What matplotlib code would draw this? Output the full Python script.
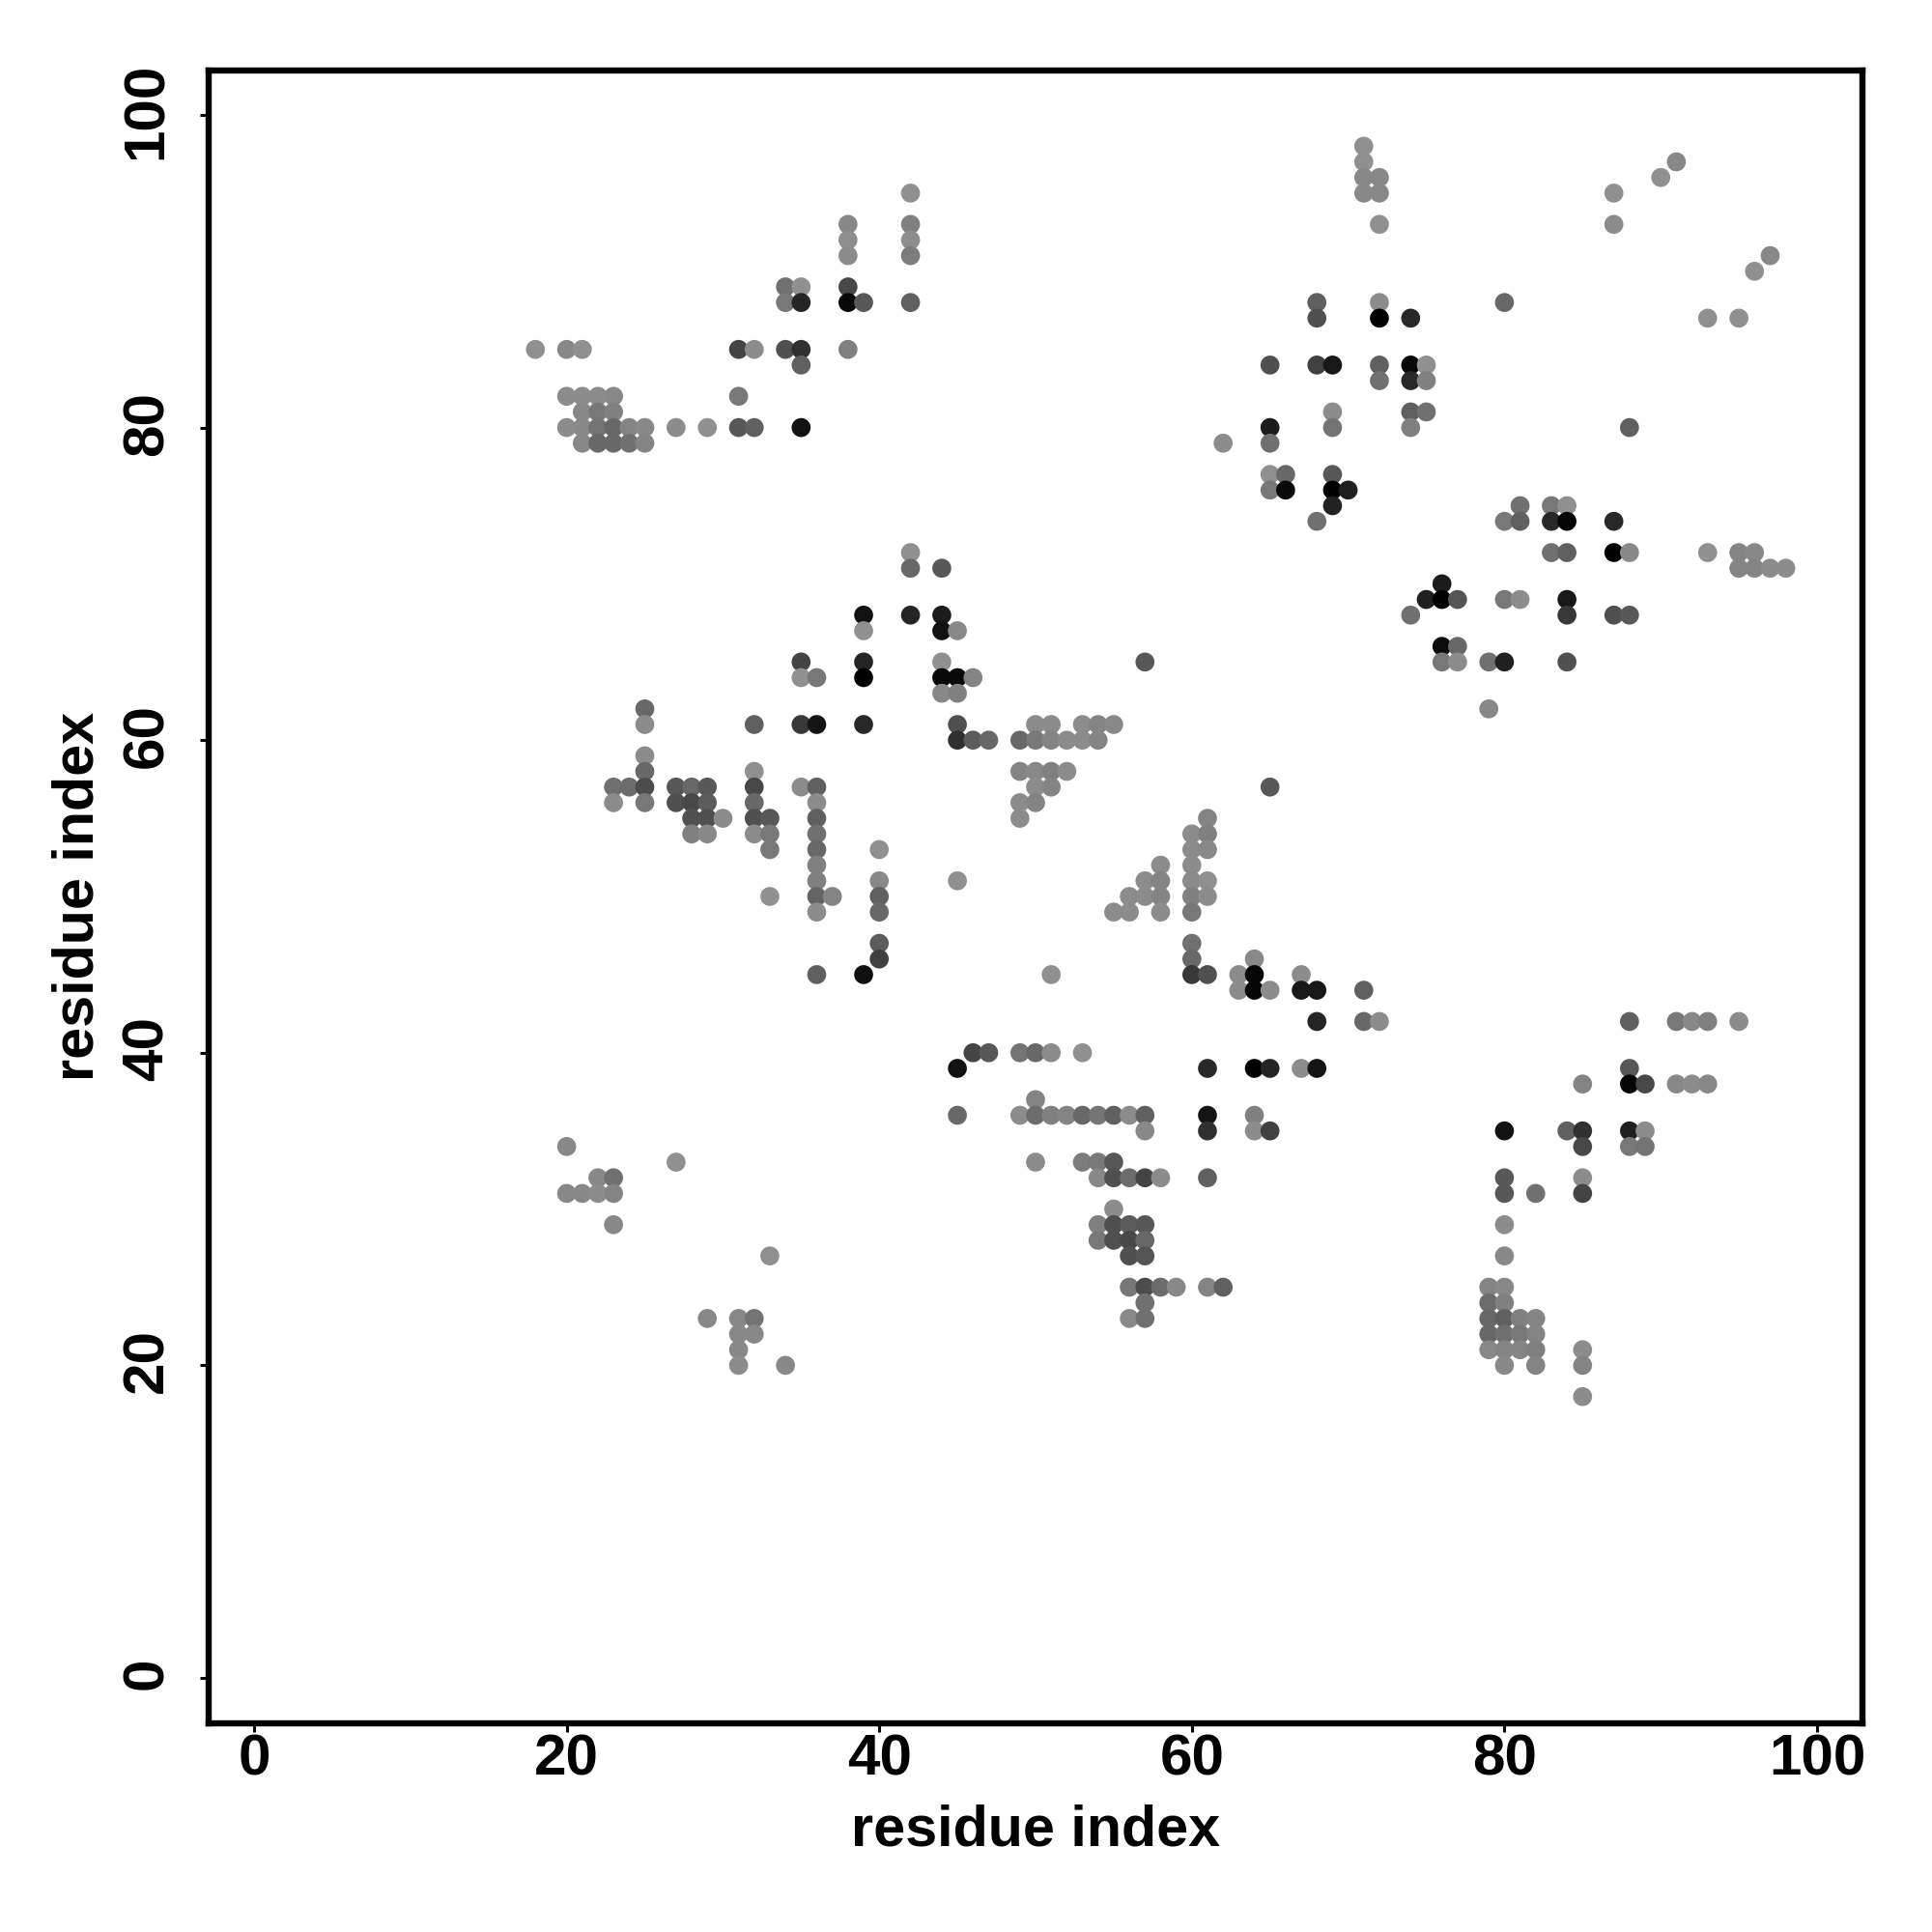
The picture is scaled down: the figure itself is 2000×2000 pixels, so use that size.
import matplotlib
matplotlib.use("Agg")
import matplotlib.pyplot as plt
from matplotlib.transforms import ScaledTranslation

plt.rcParams['font.family'] = ['Liberation Sans', 'DejaVu Sans']

# one line per row of the map, top to bottom
residue_j = [
    98,
    97, 97,
    96, 96, 96,
    95, 95, 95, 95,
    93, 93, 93, 93,
    92, 92,
    91, 91, 91,
    90,
    89, 89, 89,
    88, 88, 88, 88, 88, 88, 88, 88,
    87, 87, 87, 87, 87,
    85, 85, 85, 85, 85, 85, 85, 85,
    84, 84, 84, 84, 84, 84, 84,
    83, 83, 83,
    82, 82, 82, 82, 82,
    81, 81, 81, 81, 81, 81,
    80, 80, 80, 80, 80, 80, 80, 80, 80, 80, 80, 80, 80, 80, 80,
    79, 79, 79, 79, 79, 79, 79,
    77, 77, 77,
    76, 76, 76, 76,
    75, 75, 75, 75,
    74, 74, 74, 74, 74, 74,
    72, 72, 72, 72, 72, 72, 72, 72,
    71, 71, 71, 71, 71, 71,
    70,
    69, 69, 69, 69, 69, 69,
    68, 68, 68, 68, 68, 68, 68,
    67, 67, 67,
    66, 66,
    65, 65, 65, 65, 65, 65, 65, 65, 65,
    64, 64, 64, 64, 64, 64,
    63, 63,
    62, 62,
    61, 61, 61, 61, 61, 61, 61, 61, 61, 61, 61,
    60, 60, 60, 60, 60, 60, 60, 60, 60,
    59,
    58, 58, 58, 58, 58, 58,
    57, 57, 57, 57, 57, 57, 57, 57, 57, 57, 57, 57,
    56, 56, 56, 56, 56, 56, 56, 56, 56,
    55, 55, 55, 55, 55, 55, 55, 55,
    54, 54, 54, 54, 54, 54, 54,
    53, 53, 53, 53, 53,
    52, 52, 52,
    51, 51, 51, 51, 51, 51, 51,
    50, 50, 50, 50, 50, 50, 50, 50, 50,
    49, 49, 49, 49, 49, 49,
    47, 47,
    46, 46, 46,
    45, 45, 45, 45, 45, 45, 45, 45,
    44, 44, 44, 44, 44, 44,
    42, 42, 42, 42, 42, 42, 42, 42,
    40, 40, 40, 40, 40, 40,
    39, 39, 39, 39, 39, 39, 39,
    38, 38, 38, 38, 38, 38,
    37,
    36, 36, 36, 36, 36, 36, 36, 36, 36, 36, 36, 36,
    35, 35, 35, 35, 35, 35, 35, 35, 35,
    34, 34, 34, 34,
    33, 33, 33, 33, 33,
    32, 32, 32, 32, 32, 32, 32, 32, 32, 32,
    31, 31, 31, 31, 31, 31, 31,
    30,
    29, 29, 29, 29, 29, 29,
    28, 28, 28, 28,
    27, 27, 27, 27,
    25, 25, 25, 25, 25, 25, 25, 25,
    24, 24, 24,
    23, 23, 23, 23, 23, 23, 23, 23, 23,
    22, 22, 22, 22, 22, 22,
    21, 21, 21, 21, 21, 21,
    20, 20, 20, 20, 20,
    18,
]
residue_i = [
    71,
    71, 91,
    71, 72, 90,
    42, 71, 72, 87,
    38, 42, 72, 87,
    38, 42,
    38, 42, 97,
    96,
    34, 35, 38,
    34, 35, 38, 39, 42, 68, 72, 80,
    68, 72, 74, 93, 95,
    18, 20, 21, 31, 32, 34, 35, 38,
    35, 65, 68, 69, 72, 74, 75,
    72, 74, 75,
    20, 21, 22, 23, 31,
    21, 22, 23, 69, 74, 75,
    20, 21, 22, 23, 24, 25, 27, 29, 31, 32, 35, 65, 69, 74, 88,
    21, 22, 23, 24, 25, 62, 65,
    65, 66, 69,
    65, 66, 69, 70,
    69, 81, 83, 84,
    68, 80, 81, 83, 84, 87,
    42, 83, 84, 87, 88, 93, 95, 96,
    42, 44, 95, 96, 97, 98,
    76,
    75, 76, 77, 80, 81, 84,
    39, 42, 44, 74, 84, 87, 88,
    39, 44, 45,
    76, 77,
    35, 39, 44, 57, 76, 77, 79, 80, 84,
    35, 36, 39, 44, 45, 46,
    44, 45,
    25, 79,
    25, 32, 35, 36, 39, 45, 50, 51, 53, 54, 55,
    45, 46, 47, 49, 50, 51, 52, 53, 54,
    25,
    25, 32, 49, 50, 51, 52,
    23, 24, 25, 27, 28, 29, 32, 35, 36, 50, 51, 65,
    23, 25, 27, 28, 29, 32, 36, 49, 50,
    28, 29, 30, 32, 33, 36, 49, 61,
    28, 29, 32, 33, 36, 60, 61,
    33, 36, 40, 60, 61,
    36, 58, 60,
    36, 40, 45, 57, 58, 60, 61,
    33, 36, 37, 40, 56, 57, 58, 60, 61,
    36, 40, 55, 56, 58, 60,
    40, 60,
    40, 60, 64,
    36, 39, 51, 60, 61, 63, 64, 67,
    63, 64, 65, 67, 68, 71,
    68, 71, 72, 88, 91, 92, 93, 95,
    46, 47, 49, 50, 51, 53,
    45, 61, 64, 65, 67, 68, 88,
    85, 88, 89, 91, 92, 93,
    50,
    45, 49, 50, 51, 52, 53, 54, 55, 56, 57, 61, 64,
    57, 61, 64, 65, 80, 84, 85, 88, 89,
    20, 85, 88, 89,
    27, 50, 53, 54, 55,
    22, 23, 54, 55, 56, 57, 58, 61, 80, 85,
    20, 21, 22, 23, 80, 82, 85,
    55,
    23, 54, 55, 56, 57, 80,
    54, 55, 56, 57,
    33, 56, 57, 80,
    56, 57, 58, 59, 61, 62, 79, 80,
    57, 79, 80,
    29, 31, 32, 56, 57, 79, 80, 81, 82,
    31, 32, 79, 80, 81, 82,
    31, 79, 80, 81, 82, 85,
    31, 34, 80, 82, 85,
    85,
]
# grey level of each dot, 0-255
shade = [
    0x90,
    0x90, 0x88,
    0x88, 0x88, 0x90,
    0x90, 0x88, 0x88, 0x90,
    0x88, 0x80, 0x90, 0x8c,
    0x8e, 0x8e,
    0x8c, 0x7c, 0x88,
    0x90,
    0x70, 0x90, 0x48,
    0x78, 0x25, 0x08, 0x58, 0x60, 0x60, 0x8c, 0x68,
    0x50, 0x02, 0x28, 0x90, 0x90,
    0x90, 0x88, 0x90, 0x44, 0x8c, 0x50, 0x30, 0x80,
    0x60, 0x50, 0x40, 0x18, 0x60, 0x08, 0x90,
    0x70, 0x28, 0x80,
    0x8c, 0x8c, 0x8c, 0x88, 0x78,
    0x88, 0x78, 0x80, 0x8c, 0x60, 0x70,
    0x8c, 0x88, 0x74, 0x68, 0x84, 0x88, 0x8c, 0x90, 0x58, 0x60, 0x12, 0x1c, 0x74, 0x80, 0x60,
    0x88, 0x68, 0x68, 0x70, 0x84, 0x8c, 0x70,
    0x90, 0x68, 0x58,
    0x78, 0x0a, 0x02, 0x20,
    0x22, 0x70, 0x78, 0x90,
    0x70, 0x78, 0x60, 0x28, 0x05, 0x28,
    0x90, 0x70, 0x60, 0x02, 0x88, 0x90, 0x84, 0x88,
    0x68, 0x58, 0x84, 0x84, 0x8c, 0x8c,
    0x1c,
    0x20, 0x02, 0x55, 0x78, 0x8c, 0x18,
    0x12, 0x25, 0x1c, 0x70, 0x38, 0x50, 0x58,
    0x90, 0x12, 0x88,
    0x0c, 0x68,
    0x44, 0x25, 0x90, 0x58, 0x78, 0x8c, 0x70, 0x20, 0x50,
    0x90, 0x78, 0x00, 0x0a, 0x0a, 0x84,
    0x88, 0x80,
    0x68, 0x88,
    0x8c, 0x60, 0x38, 0x14, 0x28, 0x50, 0x8c, 0x8c, 0x8c, 0x84, 0x88,
    0x30, 0x5c, 0x68, 0x68, 0x78, 0x84, 0x8c, 0x8c, 0x84,
    0x8c,
    0x68, 0x90, 0x84, 0x88, 0x80, 0x8c,
    0x70, 0x6c, 0x4c, 0x58, 0x68, 0x58, 0x48, 0x8c, 0x60, 0x8c, 0x84, 0x58,
    0x8c, 0x78, 0x50, 0x48, 0x5c, 0x68, 0x8c, 0x8c, 0x84,
    0x50, 0x50, 0x8c, 0x50, 0x58, 0x60, 0x8c, 0x84,
    0x80, 0x88, 0x8c, 0x78, 0x70, 0x8c, 0x80,
    0x78, 0x68, 0x90, 0x8c, 0x88,
    0x80, 0x8c, 0x8c,
    0x80, 0x88, 0x90, 0x8c, 0x84, 0x8a, 0x90,
    0x90, 0x64, 0x84, 0x60, 0x8c, 0x8c, 0x84, 0x80, 0x8c,
    0x8c, 0x68, 0x8c, 0x8c, 0x8c, 0x78,
    0x5c, 0x70,
    0x40, 0x68, 0x88,
    0x60, 0x10, 0x90, 0x38, 0x50, 0x8c, 0x05, 0x8c,
    0x8c, 0x05, 0x8c, 0x18, 0x18, 0x60,
    0x25, 0x68, 0x8c, 0x60, 0x78, 0x88, 0x80, 0x8c,
    0x44, 0x58, 0x74, 0x68, 0x8c, 0x90,
    0x12, 0x28, 0x02, 0x25, 0x8c, 0x14, 0x58,
    0x84, 0x05, 0x48, 0x88, 0x8c, 0x88,
    0x84,
    0x68, 0x8c, 0x6c, 0x80, 0x84, 0x68, 0x74, 0x60, 0x8c, 0x60, 0x14, 0x80,
    0x88, 0x30, 0x8c, 0x40, 0x12, 0x60, 0x30, 0x20, 0x8c,
    0x88, 0x48, 0x78, 0x74,
    0x90, 0x8c, 0x7c, 0x78, 0x58,
    0x88, 0x70, 0x88, 0x50, 0x6c, 0x44, 0x8c, 0x60, 0x58, 0x8c,
    0x88, 0x88, 0x8c, 0x84, 0x58, 0x70, 0x44,
    0x8c,
    0x88, 0x80, 0x50, 0x5c, 0x58, 0x8c,
    0x78, 0x50, 0x48, 0x68,
    0x90, 0x50, 0x54, 0x88,
    0x78, 0x4c, 0x6c, 0x88, 0x84, 0x60, 0x84, 0x88,
    0x70, 0x6c, 0x80,
    0x88, 0x88, 0x74, 0x88, 0x70, 0x68, 0x60, 0x80, 0x84,
    0x88, 0x88, 0x68, 0x70, 0x78, 0x84,
    0x88, 0x88, 0x84, 0x84, 0x80, 0x8c,
    0x8c, 0x88, 0x88, 0x84, 0x84,
    0x8c,
]
tick_values = [0, 20, 40, 60, 80, 100]

colors = [(s / 255, s / 255, s / 255) for s in shade]

fig = plt.figure(figsize=(10, 10), dpi=200)
ax = fig.add_axes([216 / 2000, 1 - 1784 / 2000, (1928 - 216) / 2000, (1784 - 73) / 2000])

ax.scatter(residue_i, residue_j, s=50, c=colors, linewidths=0, clip_on=False)

ax.set_xlim((216 - 263) / 16.18, (1928 - 263) / 16.18)
ax.set_ylim((1737 - 1784) / 16.18, (1737 - 73) / 16.18)
ax.set_xticks(tick_values)
ax.set_yticks(tick_values)
ax.set_xticklabels([str(t) for t in tick_values], fontsize=21.7, fontweight='bold')
ax.set_yticklabels([str(t) for t in tick_values], fontsize=21.7, fontweight='bold', rotation=90, va='center')
ax.tick_params(length=3.4, width=1.1, pad=0.4)
ax.tick_params(axis='y', pad=9.5)

# rotated labels sit a little low, nudge them back onto the ticks
nudge = ScaledTranslation(0, 4.5 / 200, fig.dpi_scale_trans)
for label in ax.get_yticklabels():
    label.set_transform(label.get_transform() + nudge)

for spine in ax.spines.values():
    spine.set_linewidth(2.3)

fig.text(1072 / 2000, 1 - 1895 / 2000, 'residue index', fontsize=21.4, fontweight='bold', ha='center', va='center')
fig.text(81.5 / 2000, 1 - 928 / 2000, 'residue index', fontsize=21.4, fontweight='bold', ha='center', va='center', rotation=90)

fig.savefig('out.png', dpi=200)
